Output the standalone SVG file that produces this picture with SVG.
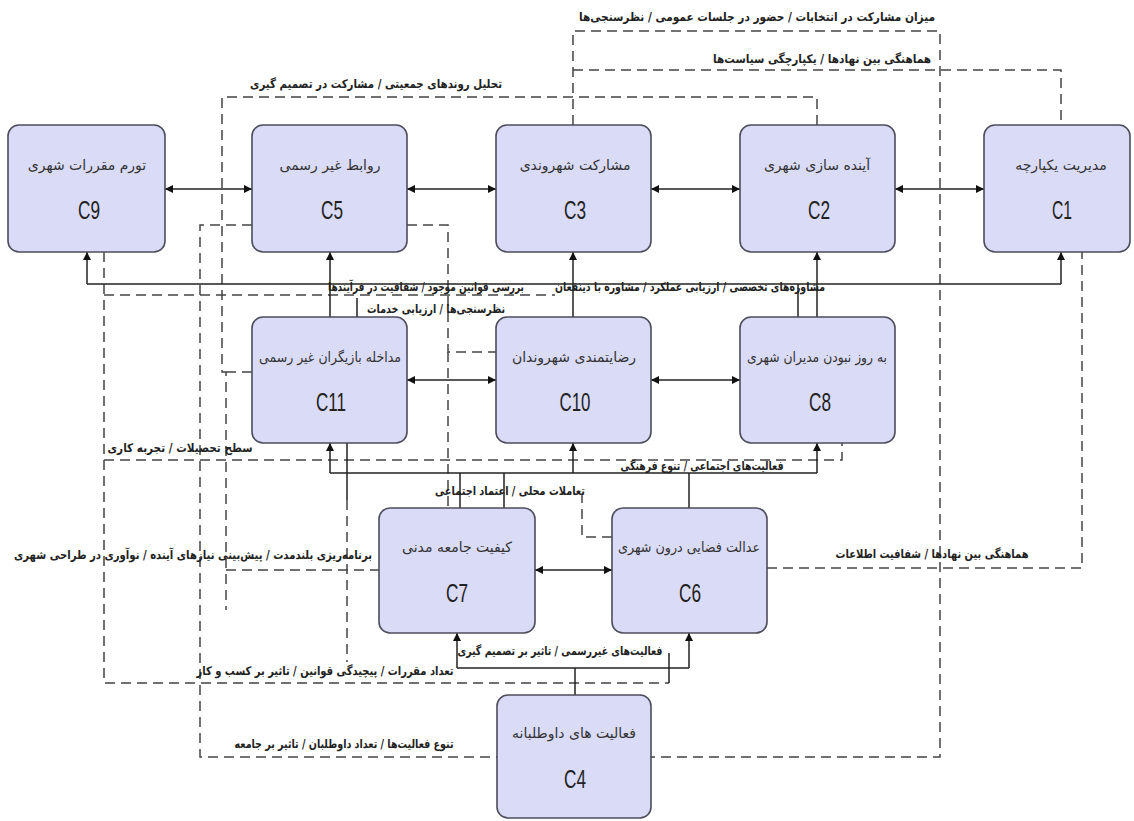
<svg xmlns="http://www.w3.org/2000/svg" width="1134" height="821" viewBox="0 0 1134 821">
<defs>
<marker id="ah" viewBox="0 0 10 10" refX="10" refY="5" markerWidth="8" markerHeight="8" orient="auto-start-reverse" markerUnits="userSpaceOnUse">
<path d="M0,0 L10,5 L0,10 z" fill="#111"/>
</marker>
<style>
.node rect{fill:#d9dbf7;stroke:#4d4d5c;stroke-width:1.6}
.t{font-family:"DejaVu Sans",sans-serif;font-size:14px;fill:#333;text-anchor:middle}
.c{font-family:"Liberation Sans Narrow","Liberation Sans",sans-serif;font-size:25px;fill:#222;text-anchor:middle}
.s{fill:none;stroke:#222;stroke-width:1.5}
.d{fill:none;stroke:#444;stroke-width:1.5;stroke-dasharray:10,6}
.a{marker-end:url(#ah)}
.b{marker-start:url(#ah);marker-end:url(#ah)}
.l{font-family:"DejaVu Sans",sans-serif;font-size:12px;font-weight:bold;fill:#222;text-anchor:middle}
</style>
</defs>
<rect width="1134" height="821" fill="#fff"/>
<g id="connectors">
<polyline class="d" points="573,125 573,31 940,31 940,757 651,757"/>
<polyline class="d" points="573,70 1061,70 1061,125"/>
<polyline class="d" points="817,125 817,97 222,97 222,372 226,372 226,610"/>
<polyline class="d" points="226,570 379,570"/>
<polyline class="d" points="252,372 226,372"/>
<polyline class="d" points="252,225 200,225 200,757 497,757"/>
<polyline class="d" points="407,225 448,225 448,352 496,352"/>
<polyline class="d" points="448,352 448,508"/>
<polyline class="d" points="104,252 104,683 669,683"/>
<polyline class="s" points="669,683 669,653"/>
<polyline class="d" points="104,295 555,295"/>
<polyline class="s" points="357,298 357,317"/>
<polyline class="d" points="104,460 842,460 842,443"/>
<polyline class="s" points="347,443 347,500"/>
<polyline class="d" points="347,500 347,662"/>
<polyline class="d" points="612,537 582,537 582,495"/>
<polyline class="d" points="767,568 1082,568 1082,252"/>
<line class="s" x1="87" y1="284" x2="1061" y2="284"/>
<line class="s a" x1="87" y1="284" x2="87" y2="252"/>
<line class="s a" x1="1061" y1="284" x2="1061" y2="252"/>
<line class="s a" x1="330" y1="317" x2="330" y2="252"/>
<line class="s a" x1="573" y1="317" x2="573" y2="252"/>
<line class="s a" x1="817" y1="317" x2="817" y2="252"/>
<line class="s" x1="798" y1="284" x2="798" y2="317"/>
<line class="s" x1="330" y1="473" x2="817" y2="473"/>
<line class="s a" x1="330" y1="473" x2="330" y2="443"/>
<line class="s a" x1="573" y1="473" x2="573" y2="443"/>
<line class="s a" x1="817" y1="473" x2="817" y2="443"/>
<line class="s" x1="689" y1="473" x2="689" y2="508"/>
<line class="s" x1="460" y1="473" x2="460" y2="508"/>
<line class="s" x1="504" y1="473" x2="504" y2="508"/>
<line class="s" x1="457" y1="668" x2="689" y2="668"/>
<line class="s a" x1="457" y1="668" x2="457" y2="633"/>
<line class="s a" x1="689" y1="668" x2="689" y2="633"/>
<line class="s" x1="575" y1="668" x2="575" y2="695"/>
<line class="s b" x1="165" y1="189" x2="252" y2="189"/>
<line class="s b" x1="407" y1="189" x2="496" y2="189"/>
<line class="s b" x1="651" y1="189" x2="740" y2="189"/>
<line class="s b" x1="895" y1="189" x2="984" y2="189"/>
<line class="s b" x1="407" y1="380" x2="496" y2="380"/>
<line class="s b" x1="651" y1="380" x2="740" y2="380"/>
<line class="s b" x1="535" y1="570" x2="612" y2="570"/>
<text class="l" x="757" y="21" textLength="356" lengthAdjust="spacingAndGlyphs">میزان مشارکت در انتخابات / حضور در جلسات عمومی / نظرسنجی‌ها</text>
<text class="l" x="822" y="63" textLength="218" lengthAdjust="spacingAndGlyphs">هماهنگی بین نهادها / یکپارچگی سیاست‌ها</text>
<text class="l" x="376" y="88" textLength="252" lengthAdjust="spacingAndGlyphs">تحلیل روندهای جمعیتی / مشارکت در تصمیم گیری</text>
<text class="l" x="426" y="291" textLength="196" lengthAdjust="spacingAndGlyphs">بررسی قوانین موجود / شفافیت در فرآیندها</text>
<text class="l" x="690" y="291" textLength="270" lengthAdjust="spacingAndGlyphs">مشاوره‌های تخصصی / ارزیابی عملکرد / مشاوره با ذینفعان</text>
<text class="l" x="436" y="313" textLength="138" lengthAdjust="spacingAndGlyphs">نظرسنجی‌ها / ارزیابی خدمات</text>
<text class="l" x="180" y="452" textLength="145" lengthAdjust="spacingAndGlyphs">سطح تحصیلات / تجربه کاری</text>
<text class="l" x="702" y="470" textLength="163" lengthAdjust="spacingAndGlyphs">فعالیت‌های اجتماعی / تنوع فرهنگی</text>
<text class="l" x="510" y="495" textLength="150" lengthAdjust="spacingAndGlyphs">تعاملات محلی / اعتماد اجتماعی</text>
<text class="l" x="193" y="559" textLength="358" lengthAdjust="spacingAndGlyphs">برنامه‌ریزی بلندمدت / پیش‌بینی نیازهای آینده / نوآوری در طراحی شهری</text>
<text class="l" x="932" y="558" textLength="193" lengthAdjust="spacingAndGlyphs">هماهنگی بین نهادها / شفافیت اطلاعات</text>
<text class="l" x="560" y="655" textLength="205" lengthAdjust="spacingAndGlyphs">فعالیت‌های غیررسمی / تاثیر بر تصمیم گیری</text>
<text class="l" x="325" y="675" textLength="257" lengthAdjust="spacingAndGlyphs">تعداد مقررات / پیچیدگی قوانین / تاثیر بر کسب و کار</text>
<text class="l" x="344" y="748" textLength="219" lengthAdjust="spacingAndGlyphs">تنوع فعالیت‌ها / تعداد داوطلبان / تاثیر بر جامعه</text>
</g>
<g id="C9" class="node"><rect x="8" y="125" width="157" height="127" rx="11"/><text class="t" x="87" y="170">تورم مقررات شهری</text><text class="c" x="89" y="219" textLength="22" lengthAdjust="spacingAndGlyphs">C9</text></g>
<g id="C5" class="node"><rect x="252" y="125" width="155" height="127" rx="11"/><text class="t" x="330" y="170">روابط غیر رسمی</text><text class="c" x="332" y="219" textLength="22" lengthAdjust="spacingAndGlyphs">C5</text></g>
<g id="C3" class="node"><rect x="496" y="125" width="155" height="127" rx="11"/><text class="t" x="575" y="170">مشارکت شهروندی</text><text class="c" x="575" y="219" textLength="22" lengthAdjust="spacingAndGlyphs">C3</text></g>
<g id="C2" class="node"><rect x="740" y="125" width="155" height="127" rx="11"/><text class="t" x="817" y="170">آینده سازی شهری</text><text class="c" x="819" y="219" textLength="22" lengthAdjust="spacingAndGlyphs">C2</text></g>
<g id="C1" class="node"><rect x="984" y="125" width="146" height="127" rx="11"/><text class="t" x="1061" y="170">مدیریت یکپارچه</text><text class="c" x="1062" y="219" textLength="20" lengthAdjust="spacingAndGlyphs">C1</text></g>
<g id="C11" class="node"><rect x="252" y="317" width="155" height="126" rx="11"/><text class="t" x="330" y="362" textLength="142" lengthAdjust="spacingAndGlyphs">مداخله بازیگران غیر رسمی</text><text class="c" x="331" y="411" textLength="30" lengthAdjust="spacingAndGlyphs">C11</text></g>
<g id="C10" class="node"><rect x="496" y="317" width="155" height="126" rx="11"/><text class="t" x="574" y="362">رضایتمندی شهروندان</text><text class="c" x="575" y="411" textLength="31" lengthAdjust="spacingAndGlyphs">C10</text></g>
<g id="C8" class="node"><rect x="740" y="317" width="155" height="126" rx="11"/><text class="t" x="817" y="362" textLength="140" lengthAdjust="spacingAndGlyphs">به روز نبودن مدیران شهری</text><text class="c" x="820" y="411" textLength="22" lengthAdjust="spacingAndGlyphs">C8</text></g>
<g id="C7" class="node"><rect x="379" y="508" width="156" height="125" rx="11"/><text class="t" x="457" y="552">کیفیت جامعه مدنی</text><text class="c" x="457" y="602" textLength="22" lengthAdjust="spacingAndGlyphs">C7</text></g>
<g id="C6" class="node"><rect x="612" y="508" width="155" height="125" rx="11"/><text class="t" x="689" y="552" textLength="142" lengthAdjust="spacingAndGlyphs">عدالت فضایی درون شهری</text><text class="c" x="690" y="602" textLength="22" lengthAdjust="spacingAndGlyphs">C6</text></g>
<g id="C4" class="node"><rect x="497" y="695" width="154" height="123" rx="11"/><text class="t" x="574" y="738">فعالیت های داوطلبانه</text><text class="c" x="575" y="788" textLength="22" lengthAdjust="spacingAndGlyphs">C4</text></g>
</svg>
